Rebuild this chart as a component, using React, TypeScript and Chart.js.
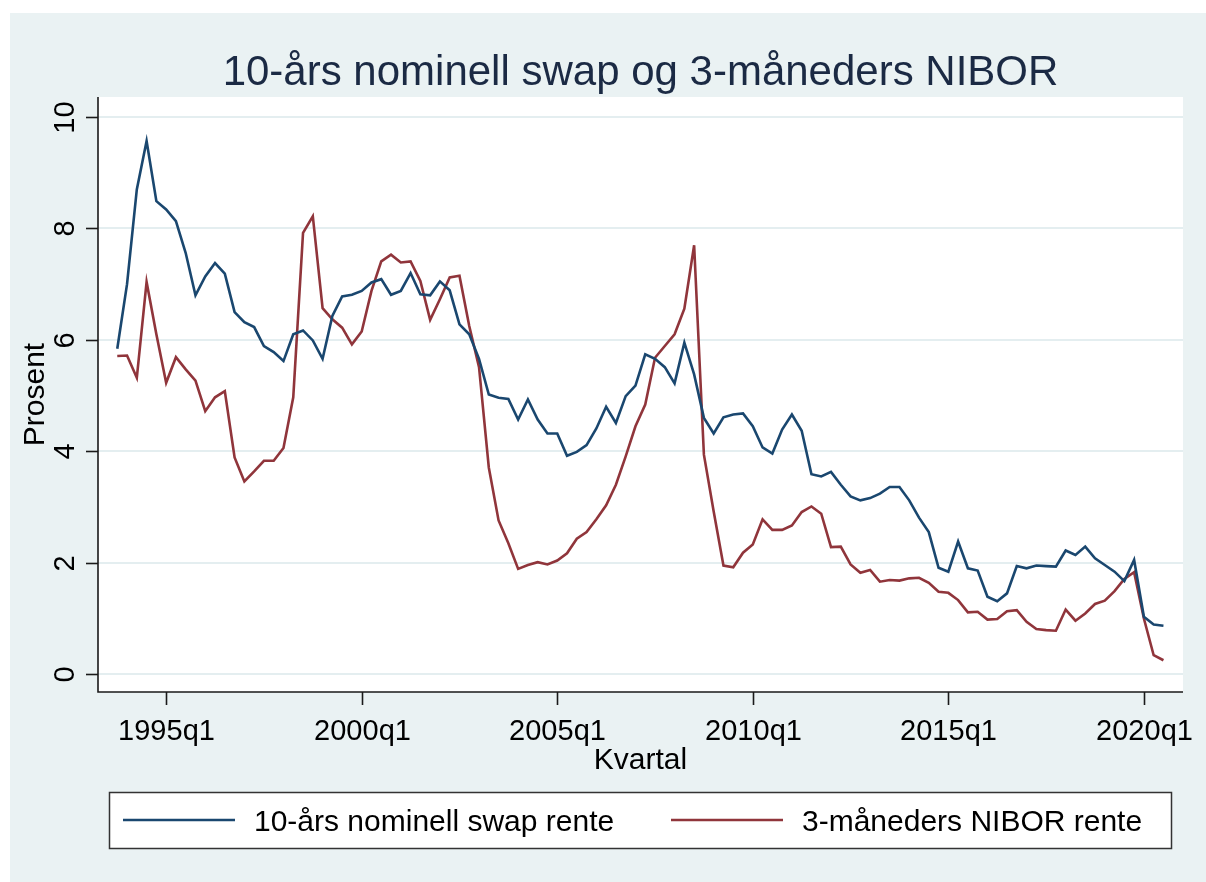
import React, { useEffect, useRef } from 'react';
import { Chart, registerables } from 'chart.js';

Chart.register(...registerables);

// ---- Data ----
const START_YEAR = 1993;
const START_QUARTER = 4;

const swap10y = [
  5.84, 7.0, 8.7, 9.57, 8.49, 8.34, 8.13, 7.56, 6.8, 7.14,
  7.38, 7.19, 6.5, 6.32, 6.23, 5.89, 5.78, 5.62, 6.1, 6.17,
  5.99, 5.66, 6.43, 6.78, 6.81, 6.88, 7.03, 7.09, 6.81, 6.88,
  7.2, 6.82, 6.8, 7.05, 6.89, 6.28, 6.1, 5.66, 5.02, 4.96,
  4.94, 4.57, 4.93, 4.57, 4.32, 4.32, 3.92, 3.99, 4.11, 4.41,
  4.8, 4.51, 4.99, 5.18, 5.74, 5.66, 5.51, 5.22, 5.95, 5.38,
  4.6, 4.32, 4.61, 4.66, 4.68, 4.45, 4.07, 3.96, 4.39, 4.66,
  4.37, 3.59, 3.55, 3.63, 3.4, 3.19, 3.12, 3.16, 3.24, 3.36,
  3.36, 3.12, 2.81, 2.55, 1.91, 1.84, 2.38, 1.9, 1.86, 1.39,
  1.31, 1.45, 1.94, 1.9, 1.95, 1.94, 1.93, 2.22, 2.14, 2.29,
  2.08, 1.96, 1.84, 1.67, 2.05, 1.03, 0.89, 0.87,
];

const nibor3m = [
  5.71, 5.72, 5.32, 7.04, 6.1, 5.23, 5.69, 5.47, 5.27, 4.72,
  4.97, 5.08, 3.89, 3.46, 3.64, 3.83, 3.83, 4.06, 4.97, 7.92,
  8.22, 6.57, 6.37, 6.22, 5.92, 6.15, 6.88, 7.41, 7.53, 7.39,
  7.41, 7.06, 6.36, 6.73, 7.12, 7.15, 6.25, 5.51, 3.71, 2.76,
  2.35, 1.89, 1.96, 2.01, 1.97, 2.04, 2.17, 2.43, 2.55, 2.78,
  3.03, 3.4, 3.91, 4.45, 4.84, 5.68, 5.89, 6.1, 6.56, 7.7,
  3.94, 2.92, 1.95, 1.92, 2.18, 2.33, 2.78, 2.59, 2.59, 2.67,
  2.91, 3.01, 2.88, 2.28, 2.29, 1.97, 1.82, 1.87, 1.66, 1.69,
  1.68, 1.72, 1.73, 1.64, 1.48, 1.46, 1.33, 1.11, 1.12, 0.98,
  0.99, 1.13, 1.15, 0.94, 0.81, 0.79, 0.78, 1.16, 0.96, 1.09,
  1.26, 1.32, 1.49, 1.71, 1.83, 1.0, 0.34, 0.25,
];

// quarter category labels (1993q4 ... 2020q3)
const quarters: string[] = swap10y.map((_, i) => {
  const q0 = START_QUARTER - 1 + i;
  return `${START_YEAR + Math.floor(q0 / 4)}q${(q0 % 4) + 1}`;
});

const seriesLabels = ['10-års nominell swap rente', '3-måneders NIBOR rente'];
const seriesColors = ['#1A476F', '#90353B'];
const xTickLabels = ['1995q1', '2000q1', '2005q1', '2010q1', '2015q1', '2020q1'];
const yTickValues = [0, 2, 4, 6, 8, 10];
const titleText = '10-års nominell swap og 3-måneders NIBOR';
const xTitleText = 'Kvartal';
const yTitleText = 'Prosent';

const FONT = '"Liberation Sans", Arial, Helvetica, sans-serif';
const W = 1206;
const H = 882;

const stataPlugin = {
  id: 'stataDecor',
  beforeDraw(chart: any) {
    const { ctx, chartArea } = chart;
    ctx.save();
    ctx.fillStyle = '#ffffff';
    ctx.fillRect(0, 0, W, H);
    ctx.fillStyle = '#EAF2F3';
    ctx.fillRect(10, 13, W - 10, H - 13);
    ctx.fillStyle = '#ffffff';
    ctx.fillRect(chartArea.left, chartArea.top, chartArea.right - chartArea.left, chartArea.bottom - chartArea.top);
    ctx.restore();
  },
  beforeDatasetsDraw(chart: any) {
    const { ctx, chartArea, scales } = chart;
    const ys = scales.y;
    ctx.save();
    ctx.strokeStyle = '#E4EEF0';
    ctx.lineWidth = 2;
    yTickValues.forEach((v) => {
      const y = Math.round(ys.getPixelForValue(v));
      ctx.beginPath();
      ctx.moveTo(chartArea.left, y);
      ctx.lineTo(chartArea.right, y);
      ctx.stroke();
    });
    ctx.restore();
  },
  afterDraw(chart: any) {
    const { ctx, chartArea, scales } = chart;
    const xs = scales.x;
    const ys = scales.y;
    const { left, right, top, bottom } = chartArea;
    ctx.save();
    // axes
    ctx.strokeStyle = '#1a1a1a';
    ctx.lineWidth = 1.6;
    ctx.beginPath();
    ctx.moveTo(left, top);
    ctx.lineTo(left, bottom);
    ctx.lineTo(right, bottom);
    ctx.stroke();

    // y ticks + labels (rotated)
    ctx.fillStyle = '#000';
    ctx.font = `29px ${FONT}`;
    yTickValues.forEach((v) => {
      const y = Math.round(ys.getPixelForValue(v)) + 0.5;
      ctx.beginPath();
      ctx.moveTo(left - 12, y);
      ctx.lineTo(left, y);
      ctx.stroke();
      ctx.save();
      ctx.translate(74, y);
      ctx.rotate(-Math.PI / 2);
      ctx.textAlign = 'center';
      ctx.textBaseline = 'alphabetic';
      ctx.fillText(String(v), 0, 0);
      ctx.restore();
    });

    // x ticks + labels
    ctx.textAlign = 'center';
    ctx.textBaseline = 'alphabetic';
    xTickLabels.forEach((lab) => {
      const idx = quarters.indexOf(lab);
      const x = Math.round(xs.getPixelForValue(idx)) + 0.5;
      ctx.beginPath();
      ctx.moveTo(x, bottom);
      ctx.lineTo(x, bottom + 13);
      ctx.stroke();
      ctx.fillText(lab, x, 740);
    });

    // axis titles
    ctx.font = `30px ${FONT}`;
    ctx.fillText(xTitleText, (left + right) / 2, 769);
    ctx.save();
    ctx.translate(44, (top + bottom) / 2);
    ctx.rotate(-Math.PI / 2);
    ctx.fillText(yTitleText, 0, 0);
    ctx.restore();

    // title
    ctx.font = `42px ${FONT}`;
    ctx.fillStyle = '#1B2A44';
    ctx.fillText(titleText, (left + right) / 2, 85);

    // legend
    const lx = 109.5, ly = 792.5, lw = 1062, lh = 56;
    ctx.fillStyle = '#ffffff';
    ctx.fillRect(lx, ly, lw, lh);
    ctx.strokeStyle = '#333';
    ctx.lineWidth = 1.5;
    ctx.strokeRect(lx, ly, lw, lh);
    const items = [
      { x0: 123, x1: 235, tx: 254 },
      { x0: 671, x1: 783, tx: 802 },
    ];
    ctx.font = `30px ${FONT}`;
    ctx.textAlign = 'left';
    chart.data.datasets.forEach((ds: any, i: number) => {
      const it = items[i];
      ctx.strokeStyle = ds.borderColor;
      ctx.lineWidth = 2.6;
      ctx.beginPath();
      ctx.moveTo(it.x0, 820);
      ctx.lineTo(it.x1, 820);
      ctx.stroke();
      ctx.fillStyle = '#000';
      ctx.fillText(ds.label, it.tx, 831);
    });
    ctx.restore();
  },
};

export default function App() {
  const ref = useRef<HTMLCanvasElement | null>(null);
  useEffect(() => {
    if (!ref.current) return;
    const chart = new Chart(ref.current, {
      type: 'line',
      data: {
        datasets: [
          {
            label: seriesLabels[0],
            data: swap10y.map((v, i) => ({ x: i, y: v })),
            borderColor: seriesColors[0],
            backgroundColor: seriesColors[0],
            borderWidth: 2.6,
            pointRadius: 0,
            tension: 0,
          },
          {
            label: seriesLabels[1],
            data: nibor3m.map((v, i) => ({ x: i, y: v })),
            borderColor: seriesColors[1],
            backgroundColor: seriesColors[1],
            borderWidth: 2.6,
            pointRadius: 0,
            tension: 0,
          },
        ],
      },
      options: {
        responsive: false,
        animation: false,
        devicePixelRatio: 1,
        layout: { padding: { left: 98, right: 23, top: 97, bottom: 190 } },
        plugins: { legend: { display: false }, title: { display: false }, tooltip: { enabled: false } },
        scales: {
          x: { type: 'linear', min: -1.97, max: 109, display: false },
          y: { type: 'linear', min: -0.32, max: 10.36, display: false },
        },
      },
      plugins: [stataPlugin],
    });
    return () => chart.destroy();
  }, []);
  return (
    <div style={{ position: 'absolute', left: 0, top: 0, width: W, height: H }}>
      <canvas ref={ref} width={W} height={H} style={{ display: 'block' }} />
    </div>
  );
}
